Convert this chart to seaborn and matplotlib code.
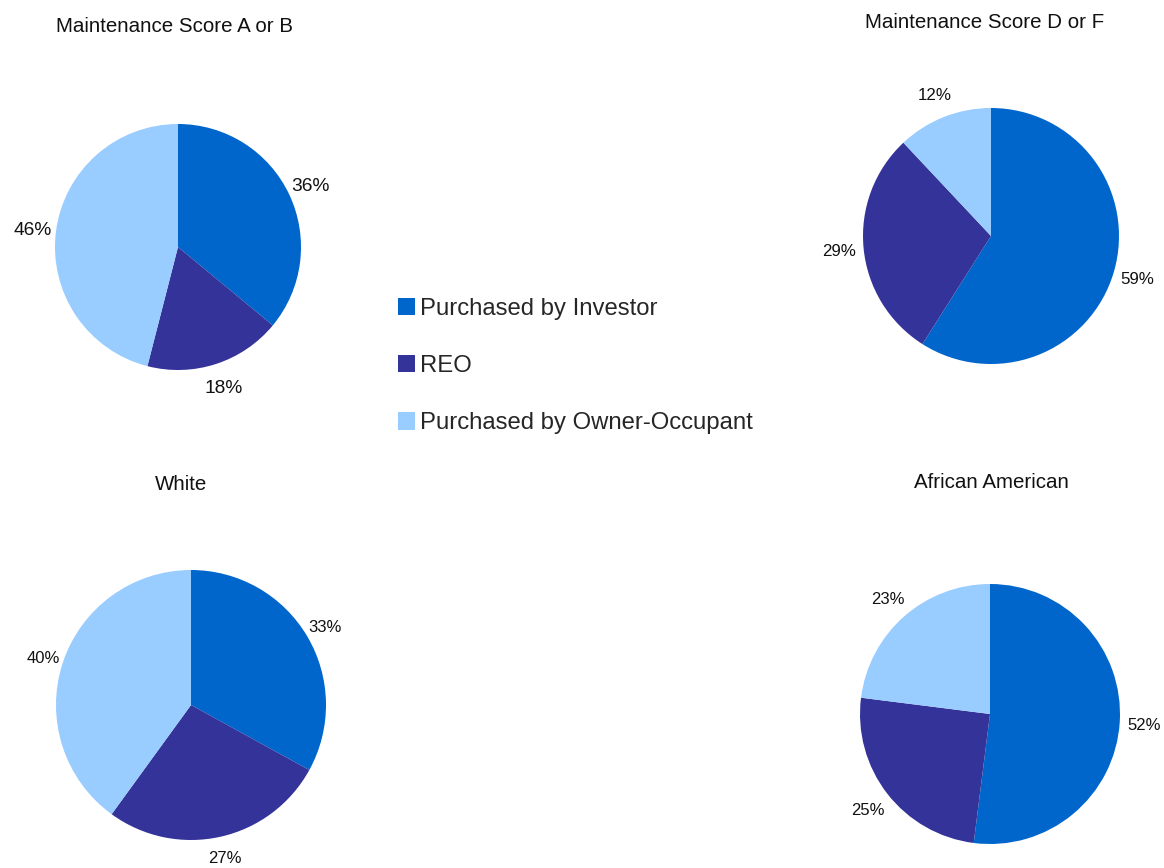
import matplotlib
matplotlib.use("Agg")
import matplotlib.pyplot as plt
from matplotlib.patches import Patch
import seaborn as sns

sns.set_style("white")
plt.rcParams['font.family'] = ['Liberation Sans', 'DejaVu Sans']

categories = ['Purchased by Investor', 'REO', 'Purchased by Owner-Occupant']
colors = ['#0066CC', '#333399', '#99CCFF']

titles = ['Maintenance Score A or B', 'Maintenance Score D or F', 'White', 'African American']
score_ab = [36, 18, 46]
score_df = [59, 29, 12]
white = [33, 27, 40]
african_american = [52, 25, 23]
series = [score_ab, score_df, white, african_american]

# pixel layout of each pie: center x, center y, radius, title y
W, H = 1164, 868
layout = [(178, 247, 123, 24), (991, 236, 128, 20), (191, 705, 135, 482), (990, 714, 130, 480)]
title_x = [175, 985, 181, 991]
pct_size = [13.8, 12.2, 12, 12]
pct_dist = [1.19, 1.19, 1.15, 1.19]

fig = plt.figure(figsize=(W / 100, H / 100), dpi=100)

for vals, title, (cx, cy, r, ty), tx, ps, pd_ in zip(series, titles, layout, title_x, pct_size, pct_dist):
    ax = fig.add_axes([(cx - r) / W, (H - cy - r) / H, 2 * r / W, 2 * r / H])
    ax.pie(vals, colors=colors, startangle=90, counterclock=False,
           autopct=lambda p: f'{round(p)}%', pctdistance=pd_,
           textprops={'fontsize': ps, 'color': '#111111', 'va': 'center_baseline'},
           wedgeprops={'linewidth': 0})
    ax.set_xlim(-1, 1)
    ax.set_ylim(-1, 1)
    ax.set_aspect('equal')
    ax.axis('off')
    fig.text(tx / W, 1 - ty / H, title, ha='center', va='center_baseline', fontsize=14.8, color='#111111')

handles = [Patch(facecolor=c, edgecolor='none', label=l) for c, l in zip(colors, categories)]
fig.legend(handles=handles, loc='center left', bbox_to_anchor=(386 / W, 1 - 366 / H),
           frameon=False, fontsize=17.2, handlelength=0.72, handleheight=0.72,
           handletextpad=0.2, labelspacing=1.48, borderpad=0)

fig.savefig('out.png', dpi=100)
